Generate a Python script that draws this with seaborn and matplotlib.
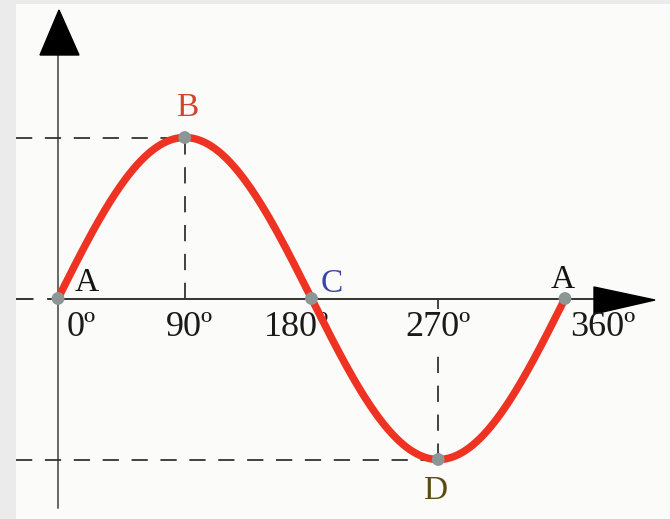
import numpy as np
import pandas as pd
import seaborn as sns
import matplotlib.pyplot as plt

# Key points of one sine cycle
angles = [0, 90, 180, 270, 360]
values = [0, 1, 0, -1, 0]
point_names = ["A", "B", "C", "D", "A"]
tick_labels = ["0º", "90º", "180º", "270º", "360º"]
name_colors = ["#141414", "#d2452b", "#3b47a3", "#5b4a14", "#141414"]

sns.set_theme(style="white")
plt.rcParams["font.family"] = ["Liberation Serif", "DejaVu Serif"]

W, H = 670, 519
fig = plt.figure(figsize=(W / 100, H / 100), dpi=100)
fig.patch.set_facecolor("#ebebeb")
ax = fig.add_axes([0, 0, 1, 1])
ax.set_facecolor("#fbfbfa")

# pixel <-> data helpers for the canvas layout
X0, XPX = 58.0, (565.0 - 58.0) / 360.0
Y0, YPX = 298.5, 161.0
def dx(p):
    return (p - X0) / XPX
def dy(p):
    return (Y0 - p) / YPX

ax.set_xlim(dx(0), dx(W))
ax.set_ylim(dy(H), dy(0))
ax.axis("off")

# page area (scanned sheet) on a light grey frame
ax.add_patch(plt.Rectangle((dx(16), dy(H)), dx(W) - dx(16), dy(4) - dy(H),
                           facecolor="#fbfbfa", edgecolor="none", zorder=0))
ax.add_patch(plt.Rectangle((dx(0), dy(H)), dx(16) - dx(0), dy(0) - dy(H),
                           facecolor="#ebebeb", edgecolor="none", zorder=0.5))
ax.add_patch(plt.Rectangle((dx(0), dy(4)), dx(W) - dx(0), dy(0) - dy(4),
                           facecolor="#ebebeb", edgecolor="none", zorder=0.5))

# axes lines
axis_col = "#333333"
ax.plot([0, 0], [dy(508), dy(55)], color="#666666", lw=1.4, zorder=2)
ax.plot([0, dx(596)], [0, 0], color=axis_col, lw=1.4, zorder=2)
ax.plot([dx(16), 0], [0, 0], color=axis_col, lw=1.4, ls=(0, (9, 7)), zorder=2)
# arrow heads
ax.fill([dx(40), dx(79), dx(59)], [dy(55), dy(55), dy(10)], color="#000000", zorder=3)
ax.fill([dx(594), dx(594), dx(655)], [dy(287), dy(314), dy(300)], color="#000000", zorder=3)

# guide lines to max and min
dash = (0, (9, 7))
vmax, vmin = max(values), min(values)
amax, amin = angles[values.index(vmax)], angles[values.index(vmin)]
ax.plot([dx(16), amax], [vmax, vmax], color=axis_col, lw=1.3, ls=dash, zorder=2)
ax.plot([amax, amax], [0, vmax], color=axis_col, lw=1.3, ls=dash, zorder=2)
ax.plot([dx(16), amin], [vmin, vmin], color=axis_col, lw=1.3, ls=dash, zorder=2)
ax.plot([amin, amin], [0, vmin], color=axis_col, lw=1.3, ls=dash, zorder=2)

# tick labels along the horizontal axis
tick_dx = [23, 5, -15, 0, 38]
for a, lab, off in zip(angles, tick_labels, tick_dx):
    ax.text(a + off / XPX, dy(327), lab, ha="center", va="center",
            fontsize=26, color="#1a1a1a", zorder=4,
            bbox=dict(boxstyle="square,pad=0.05", fc="#fbfbfa", ec="none") if a == amin else None)

# the sine wave
theta = np.linspace(angles[0], angles[-1], 721)
wave = pd.DataFrame({"angle": theta, "value": vmax * np.sin(np.radians(theta))})
sns.lineplot(data=wave, x="angle", y="value", ax=ax, color="#ee3322",
             lw=5.4, zorder=5, legend=False, sort=False)

# marked points
pts = pd.DataFrame({"angle": angles, "value": values})
sns.scatterplot(data=pts, x="angle", y="value", ax=ax, color="#8b9695",
                s=85, edgecolor="none", zorder=6, legend=False)

# point names
name_off = [(29, -16), (2, -30), (20, -15), (-3, 31), (-2, -19)]
for a, v, n, c, (ox, oy) in zip(angles, values, point_names, name_colors, name_off):
    ax.text(a + ox / XPX, v - oy / YPX, n, ha="center", va="center",
            fontsize=24, color=c, zorder=7)

ax.set_xlabel("")
ax.set_ylabel("")
fig.savefig("out.png", dpi=100)
